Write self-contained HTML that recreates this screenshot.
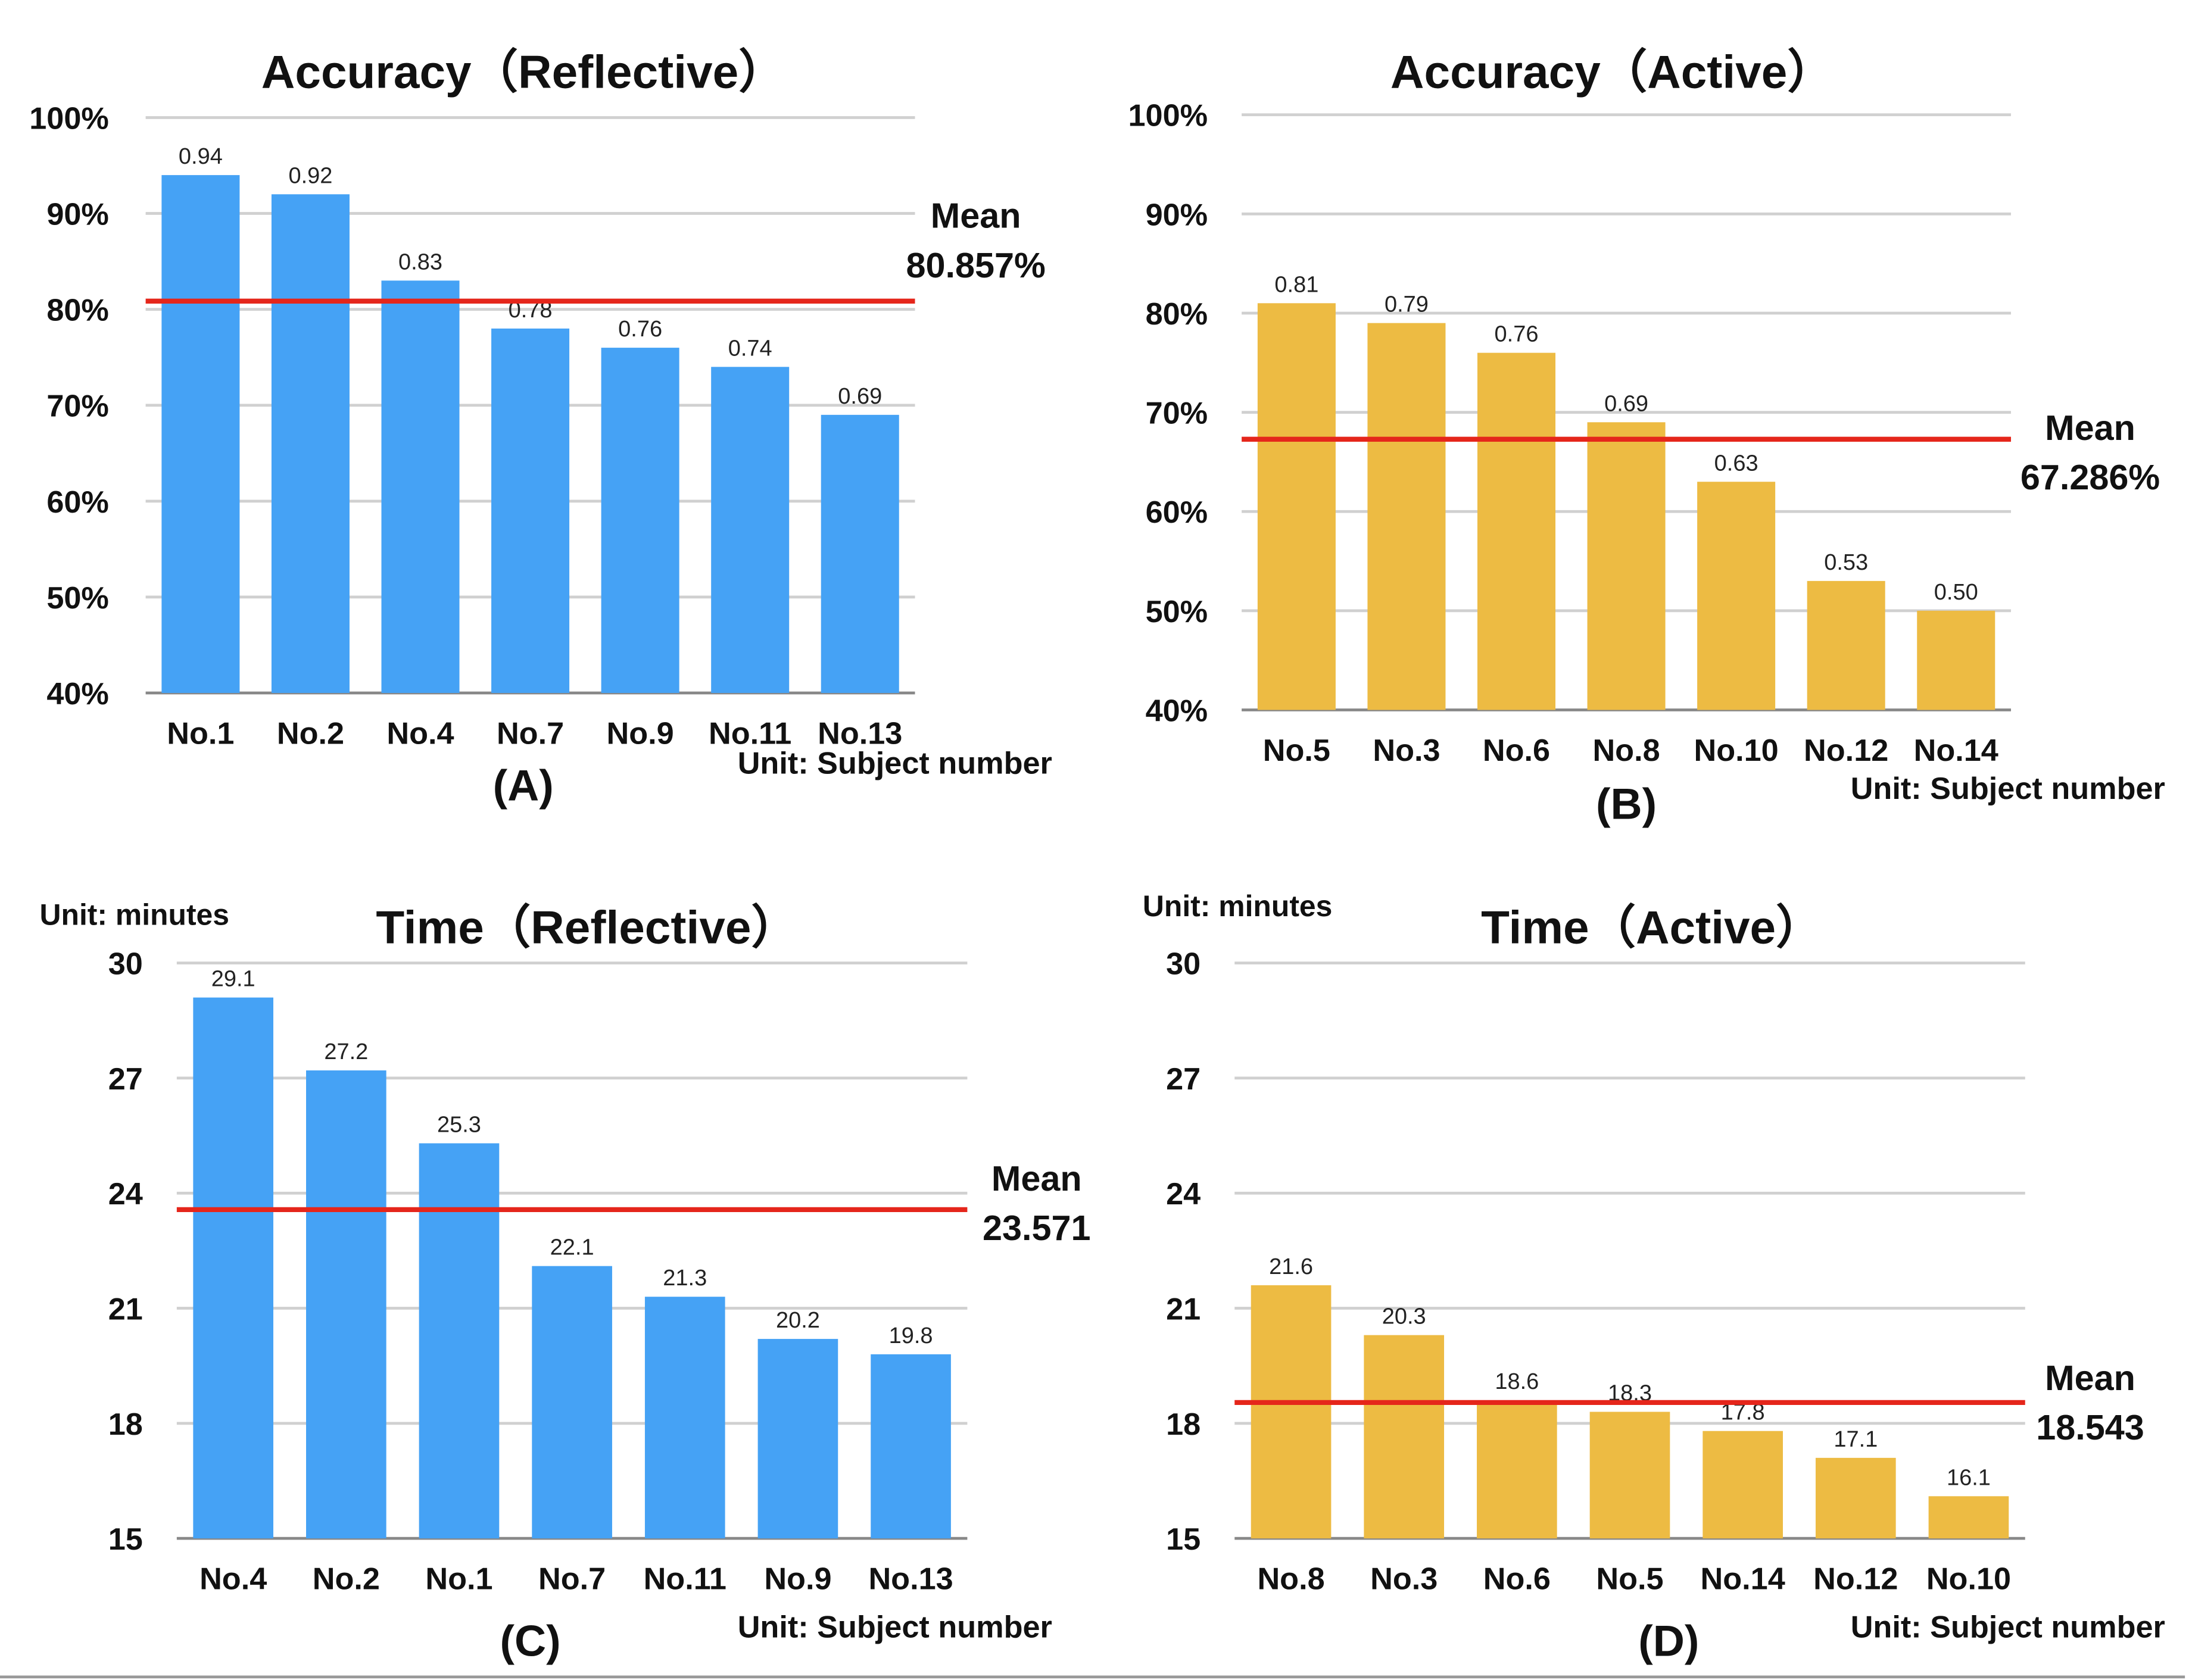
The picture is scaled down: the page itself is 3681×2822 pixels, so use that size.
<!DOCTYPE html>
<html><head><meta charset="utf-8"><style>
html,body{margin:0;padding:0;background:#fff;}
svg{display:block;}
text{font-family:"Liberation Sans",Arial,sans-serif;}
</style></head><body>
<svg id="chart" width="3681" height="2822" viewBox="0 0 1550 1188" xmlns="http://www.w3.org/2000/svg">
<rect width="1550" height="1188" fill="#fff"/>
<line x1="0" y1="1186" x2="1545" y2="1186" stroke="#999" stroke-width="2"/>
</svg>
<script>
const catsA = ["No.1","No.2","No.4","No.7","No.9","No.11","No.13"];
const valsA = [0.94,0.92,0.83,0.78,0.76,0.74,0.69];
const labelsA = ["0.94","0.92","0.83","0.78","0.76","0.74","0.69"];
const meanA = 0.80857;
const ticksA = [0.4,0.5,0.6,0.7,0.8,0.9,1.0];
const tickLabelsA = ["40%","50%","60%","70%","80%","90%","100%"];

const catsB = ["No.5","No.3","No.6","No.8","No.10","No.12","No.14"];
const valsB = [0.81,0.79,0.76,0.69,0.63,0.53,0.50];
const labelsB = ["0.81","0.79","0.76","0.69","0.63","0.53","0.50"];
const meanB = 0.67286;

const catsC = ["No.4","No.2","No.1","No.7","No.11","No.9","No.13"];
const valsC = [29.1,27.2,25.3,22.1,21.3,20.2,19.8];
const meanC = 23.571;
const ticksT = [15,18,21,24,27,30];

const catsD = ["No.8","No.3","No.6","No.5","No.14","No.12","No.10"];
const valsD = [21.6,20.3,18.6,18.3,17.8,17.1,16.1];
const meanD = 18.543;

const svg = document.getElementById('chart');
const NS = "http://www.w3.org/2000/svg";
function mk(tag, attrs, parent, txt){
  const e = document.createElementNS(NS, tag);
  for (const k in attrs) e.setAttribute(k, attrs[k]);
  if (txt !== undefined) e.textContent = txt;
  (parent||svg).appendChild(e);
  return e;
}

function panel(p){
  const g = mk('g', {});
  
  
  const y = v => p.y0 + (v - p.vmin) / (p.vmax - p.vmin) * (p.y1 - p.y0);
  const n = p.cats.length;
  const step = (p.x1 - p.x0) / n;
  const xc = i => p.x0 + step * (i + 0.5);
  // gridlines
  p.ticks.forEach((t, i) => {
    const ln = mk('line', {x1:p.x0, x2:p.x1, y1:y(t), y2:y(t), stroke: i===0 ? '#888' : '#d0d0d0', 'stroke-width': 2}, g);
    
    
    const tl = mk('text', {x:p.tickX, y:y(t)+8, 'text-anchor':'end', 'font-size':22, 'font-weight':'bold', fill:'#111'}, g, p.tickLabels[i]);
    
    
  });
  // bars
  p.vals.forEach((v, i) => {
    const bw = step * 0.71;
    const r = mk('rect', {x:xc(i)-bw/2, y:y(v), width:bw, height:y(p.vmin)-y(v), fill:p.color}, g);
    
    
    const vl = mk('text', {x:xc(i), y:y(v)-8, 'text-anchor':'middle', 'font-size':16, fill:'#222'}, g, p.labels[i]);
    
    
    const cl = mk('text', {x:xc(i), y:p.xlY, 'text-anchor':'middle', 'font-size':22, 'font-weight':'bold', fill:'#111'}, g, p.cats[i]);
    
    
  });
  // mean line
  const ml = mk('line', {x1:p.x0, x2:p.x1, y1:y(p.mean), y2:y(p.mean), stroke:'#e5261b', 'stroke-width':3.5}, g);
  
  
  const m1 = mk('text', {x:p.meanX, y:p.meanY, 'text-anchor':'middle', 'font-size':25, 'font-weight':'bold', fill:'#111'}, g, 'Mean');
  
  
  const m2 = mk('text', {x:p.meanX, y:p.meanY+35, 'text-anchor':'middle', 'font-size':25, 'font-weight':'bold', fill:'#111'}, g, p.meanText);
  
  
  const t = mk('text', {x:p.titleX, y:p.titleY, 'text-anchor':'middle', 'font-size':33, 'font-weight':'bold', fill:'#111'}, g, p.title);
  
  
  const u = mk('text', {x:p.unitX, y:p.unitY, 'text-anchor':'end', 'font-size':22, 'font-weight':'bold', fill:'#111'}, g, 'Unit: Subject number');
  
  
  const pl = mk('text', {x:p.plX, y:p.plY, 'text-anchor':'middle', 'font-size':31, 'font-weight':'bold', fill:'#111'}, g, p.panelLabel);
  
  
  if (p.minutesX !== undefined) {
    const mu = mk('text', {x:p.minutesX, y:p.minutesY, 'font-size':21, 'font-weight':'bold', fill:'#111'}, g, 'Unit: minutes');
    
    
  }
}

const tickLabelsT = ticksT.map(String);

panel({id:'panel-a', cats:catsA, vals:valsA, labels:labelsA, mean:meanA, meanText:'80.857%',
  ticks:ticksA, tickLabels:tickLabelsA, vmin:0.4, vmax:1.0, x0:103, x1:647, y0:490, y1:83,
  color:'#45a2f5', tickX:77, xlY:526, meanX:690, meanY:161, title:'Accuracy（Reflective）', titleX:370, titleY:62,
  unitX:744, unitY:547, panelLabel:'(A)', plX:370, plY:566});
panel({id:'panel-b', cats:catsB, vals:valsB, labels:labelsB, mean:meanB, meanText:'67.286%',
  ticks:ticksA, tickLabels:tickLabelsA, vmin:0.4, vmax:1.0, x0:878, x1:1422, y0:502, y1:81,
  color:'#edbb43', tickX:854, xlY:538, meanX:1478, meanY:311, title:'Accuracy（Active）', titleX:1140, titleY:62,
  unitX:1531, unitY:565, panelLabel:'(B)', plX:1150, plY:579});
panel({id:'panel-c', cats:catsC, vals:valsC, labels:valsC.map(v=>v.toFixed(1)), mean:meanC, meanText:'23.571',
  ticks:ticksT, tickLabels:tickLabelsT, vmin:15, vmax:30, x0:125, x1:684, y0:1088, y1:681,
  color:'#45a2f5', tickX:101, xlY:1124, meanX:733, meanY:842, title:'Time（Reflective）', titleX:415, titleY:667,
  unitX:744, unitY:1158, panelLabel:'(C)', plX:375, plY:1171, minutesX:28, minutesY:654});
panel({id:'panel-d', cats:catsD, vals:valsD, labels:valsD.map(v=>v.toFixed(1)), mean:meanD, meanText:'18.543',
  ticks:ticksT, tickLabels:tickLabelsT, vmin:15, vmax:30, x0:873, x1:1432, y0:1088, y1:681,
  color:'#edbb43', tickX:849, xlY:1124, meanX:1478, meanY:983, title:'Time（Active）', titleX:1168, titleY:667,
  unitX:1531, unitY:1158, panelLabel:'(D)', plX:1180, plY:1171, minutesX:808, minutesY:648});
</script>
</body></html>
